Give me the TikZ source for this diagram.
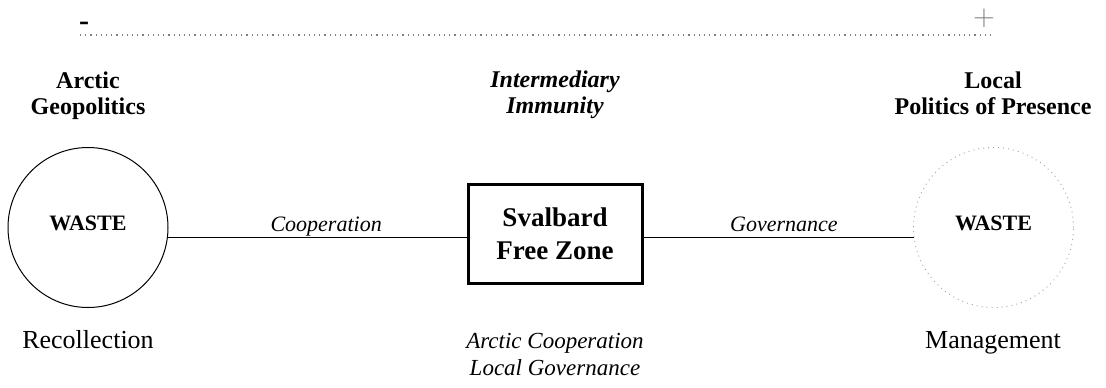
\documentclass[tikz,border=0pt]{standalone}
\usepackage{fontspec}
\setmainfont{Liberation Serif}
\usepackage{tikz}

\begin{document}
\begin{tikzpicture}[x=0.5pt,y=-0.5pt,
    waste/.style={circle, draw, line width=0.5pt, minimum size=80pt, inner sep=0pt, text depth=4pt, font=\fontsize{11}{13}\selectfont\bfseries},
    wastedot/.style={waste, draw=gray!70, dotted, line width=0.45pt},
    zonebox/.style={draw, line width=1.5pt, minimum width=87pt, minimum height=49.5pt, align=center, font=\fontsize{13.5}{16.5}\selectfont\bfseries},
    head/.style={anchor=north, inner sep=0pt, align=center, font=\fontsize{12}{13}\selectfont\bfseries},
    foot/.style={anchor=base, inner sep=0pt, align=center, font=\fontsize{13}{13}\selectfont},
    link/.style={line width=0.5pt},
    linklabel/.style={anchor=base, yshift=2.8pt, inner sep=0pt, font=\fontsize{11}{13}\selectfont\itshape}]

\useasboundingbox (0,0) rectangle (1106,387);

% scale on top
\coordinate (low) at (80,35);
\coordinate (high) at (994,35);
\draw[gray, dotted, line width=0.6pt] (low) -- (high);
\node (minus) at (84,26) {\fontsize{15}{15}\selectfont\bfseries -};
\node[gray] (plus) at (984,18) {\fontsize{15}{15}\selectfont $+$};

% headings
\node[head] (geo) at (88,71) {Arctic\\Geopolitics};
\node[head, font=\fontsize{12}{13}\selectfont\bfseries\itshape] (immunity) at (555,70) {Intermediary\\Immunity};
\node[head] (presence) at (993,71) {Local\\Politics of Presence};

% main row
\node[waste] (wasteL) at (88,227.5) {WASTE};
\node[zonebox] (zone) at (555,233.5) {Svalbard\\Free Zone};
\node[wastedot] (wasteR) at (993.5,227.5) {WASTE};

\draw[link] (wasteL.-7) -- (wasteL.-7 -| zone.west) node[linklabel, pos=0.53] {Cooperation};
\draw[link] (zone.east |- wasteR.-173) -- (wasteR.-173) node[linklabel, pos=0.52] {Governance};

% bottom
\node[foot] (recollection) at (88,348) {Recollection};
\node[foot, anchor=north, font=\fontsize{11.5}{13.3}\selectfont\itshape] (coop) at (555,333) {Arctic Cooperation\\Local Governance};
\node[foot] (management) at (993,348) {Management};

\end{tikzpicture}
\end{document}
